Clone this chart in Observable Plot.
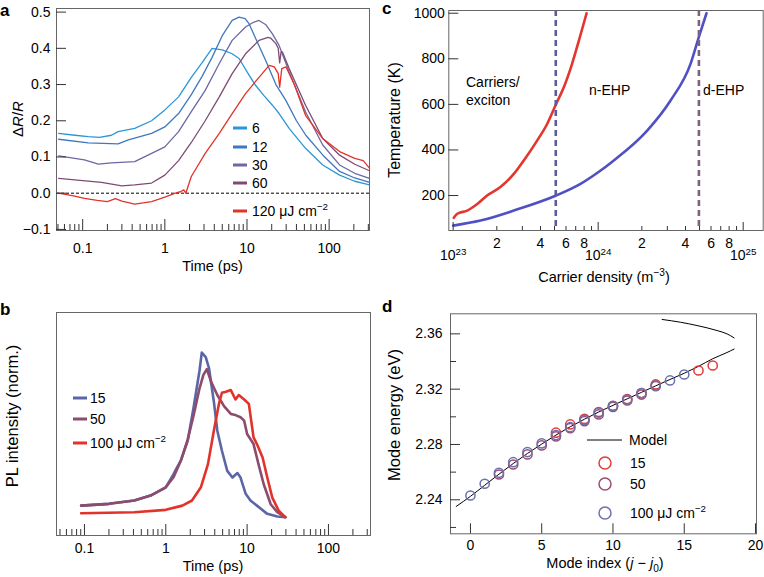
<!DOCTYPE html>
<html><head><meta charset="utf-8">
<script src="https://cdn.jsdelivr.net/npm/d3@7"></script>
<script src="https://cdn.jsdelivr.net/npm/@observablehq/plot@0.6"></script>
<style>
body{margin:0;background:#fff}
#fig{position:relative;width:764px;height:577px;font-family:"Liberation Sans",Arial,Helvetica,sans-serif;overflow:hidden}
#fig svg{position:absolute}
</style></head>
<body><div id="fig"></div>
<script>
// ---------- Panel a: ΔR/R vs time, fluence series ----------
const aFluences = ["6", "12", "30", "60", "120"];
const a6 = [[0.051,0.165],[0.08,0.160],[0.117,0.156],[0.16,0.154],[0.224,0.160],[0.27,0.170],[0.43,0.179],[0.69,0.200],[1.0,0.230],[1.47,0.266],[2.1,0.320],[2.83,0.360],[3.76,0.400],[5.0,0.396],[6.6,0.385],[8.0,0.372],[10.6,0.326],[12.7,0.298],[16,0.27],[20.4,0.243],[24.6,0.22],[32.6,0.179],[51.6,0.124],[83.6,0.078],[134,0.050],[205,0.033],[310,0.023]];
const a12 = [[0.051,0.149],[0.117,0.139],[0.27,0.136],[0.36,0.147],[0.69,0.165],[1.0,0.183],[1.47,0.220],[2.1,0.272],[2.83,0.322],[3.76,0.375],[5.0,0.435],[6.6,0.477],[8.0,0.486],[9.5,0.482],[10.6,0.468],[12.6,0.430],[17,0.365],[22.5,0.300],[29.6,0.257],[40,0.200],[52,0.160],[84,0.105],[134,0.060],[205,0.042],[310,0.030]];
const a30 = [[0.051,0.103],[0.105,0.092],[0.155,0.080],[0.224,0.084],[0.43,0.087],[0.69,0.110],[1.0,0.128],[1.47,0.170],[2.1,0.225],[3.1,0.284],[4.6,0.358],[6.6,0.422],[9.6,0.459],[12,0.472],[14,0.477],[17,0.465],[20.4,0.440],[24.6,0.408],[32.6,0.335],[51.6,0.225],[83.6,0.133],[134,0.078],[205,0.055],[310,0.041]];
const a60 = [[0.051,0.041],[0.17,0.030],[0.3,0.020],[0.43,0.023],[0.69,0.028],[1.0,0.050],[1.47,0.090],[2.1,0.140],[3.1,0.200],[4.6,0.266],[6.6,0.330],[9.6,0.385],[14,0.422],[18,0.430],[19.5,0.428],[22.5,0.413],[24,0.400],[25,0.360],[26,0.390],[27,0.390],[32.6,0.344],[51.6,0.243],[83.6,0.151],[134,0.105],[205,0.080],[310,0.062]];
const a120 = [[0.051,0.0],[0.08,-0.008],[0.105,-0.014],[0.15,-0.020],[0.2,-0.023],[0.25,-0.015],[0.3,-0.022],[0.43,-0.030],[0.69,-0.023],[1.0,-0.011],[1.34,0.0],[1.55,0.004],[1.7,0.009],[1.8,0.0],[2.1,0.046],[3.1,0.110],[4.6,0.165],[6.6,0.220],[9.6,0.275],[14,0.320],[18.6,0.353],[21.5,0.349],[24,0.330],[25,0.293],[26.5,0.344],[29.8,0.349],[38,0.298],[51.6,0.215],[83.6,0.151],[134,0.115],[205,0.096],[260,0.090],[310,0.069]];
const aXLabels = [0.1, 1, 10, 100];
const aYTicks = [-0.1, 0, 0.1, 0.2, 0.3, 0.4, 0.5];

// ---------- Panel b: PL intensity vs time ----------
const bFluences = ["15", "50", "100"];
const b15 = [[0.091,0.134],[0.2,0.142],[0.41,0.157],[0.65,0.179],[1.0,0.216],[1.25,0.276],[1.35,0.30],[1.53,0.336],[1.86,0.425],[2.2,0.575],[2.6,0.74],[2.77,0.82],[3.1,0.80],[3.4,0.75],[3.9,0.60],[4.3,0.47],[4.9,0.38],[5.7,0.29],[6.6,0.26],[7.6,0.28],[8.3,0.26],[9.6,0.187],[11,0.157],[13.2,0.134],[17.7,0.097],[23.5,0.085],[29.5,0.082]];
const b50 = [[0.091,0.134],[0.2,0.142],[0.41,0.157],[0.65,0.179],[1.0,0.216],[1.25,0.262],[1.53,0.335],[1.86,0.43],[2.2,0.54],[2.6,0.66],[2.9,0.72],[3.2,0.746],[3.6,0.69],[4.3,0.63],[5.2,0.58],[6.3,0.545],[7.2,0.54],[8.3,0.53],[9.2,0.515],[10,0.455],[12,0.41],[13.8,0.32],[16,0.23],[19.5,0.14],[23.5,0.105],[29.5,0.082]];
const b100 = [[0.091,0.10],[0.41,0.104],[1.0,0.115],[1.6,0.134],[2.1,0.157],[2.7,0.216],[3.3,0.32],[3.9,0.47],[4.5,0.59],[4.9,0.64],[5.5,0.645],[6.3,0.652],[7.2,0.61],[7.9,0.63],[9.2,0.61],[10.5,0.59],[12,0.44],[13.2,0.41],[15.5,0.35],[17.7,0.26],[20.4,0.17],[24.6,0.11],[29.5,0.082]];
const bXLabels = [0.1, 1, 10, 100];

// ---------- Panel c: temperature vs carrier density ----------
const cRed = [[1.01e23,102],[1.067e23,120],[1.25e23,134],[1.466e23,163],[1.714e23,200],[2.118e23,237],[2.618e23,295],[3.069e23,354],[3.793e23,441],[4.446e23,514],[5.129e23,602],[5.794e23,675],[6.607e23,778],[7.362e23,880],[8.318e23,1000]];
const cBlue = [[1.0e23,68],[1.545e23,90],[2.618e23,134],[5.129e23,200],[7.551e23,251],[1.0e24,302],[1.282e24,354],[2.178e24,485],[3.155e24,617],[4.335e24,778],[4.943e24,895],[5.585e24,1000]];
const cBoundaries = [5.1e23, 4.95e24];
const cDecades = [1e23, 1e24, 1e25];
const cMinorLabels = [2e23, 4e23, 6e23, 8e23, 2e24, 4e24, 6e24, 8e24];
const cYTicks = [200, 400, 600, 800, 1000];
const cRegions = ["Carriers/", "exciton", "n-EHP", "d-EHP"];

// ---------- Panel d: mode energy vs mode index ----------
const dModel = [[-1,2.2352],[0,2.2425],[1,2.2505],[2,2.2585],[3,2.2662],[4,2.2735],[5,2.2803],[6,2.2868],[7,2.2928],[8,2.2983],[9,2.3035],[10,2.3083],[11,2.313],[12,2.3177],[13,2.3224],[14,2.327],[15,2.3315],[16,2.3365],[17,2.342],[18,2.3465],[18.5,2.349]];
const dModelUpper = [[13.45,2.3704],[14.74,2.3684],[15.9,2.366],[17.3,2.3624],[18.0,2.360],[18.5,2.3571]];
const d15 = [[6,2.2885],[7,2.2945],[8,2.2985],[9,2.3035],[10,2.308],[11,2.3128],[12,2.3172],[13,2.3234],[16,2.3335],[17,2.3371]];
const d50 = [[2,2.2583],[3,2.2655],[4,2.2728],[5,2.2793],[6,2.2858],[7,2.2918],[8,2.2969],[9,2.3017],[10,2.3072],[11,2.3118],[12,2.3161],[13,2.3225]];
const d100 = [[0,2.2431],[1,2.2516],[2,2.2595],[3,2.2672],[4,2.2745],[5,2.2808],[6,2.2868],[7,2.2925],[8,2.2978],[9,2.3030],[10,2.3078],[11,2.3125],[12,2.3172],[13,2.3222],[14,2.3263],[15,2.3306]];
const dXTicks = [0, 5, 10, 15, 20];
const dYLabels = [2.24, 2.28, 2.32, 2.36];
const dYMinor = [2.22, 2.26, 2.30, 2.34];

// ---------- colours ----------
const colA = ["#2b97d6", "#3f78bd", "#6d68a3", "#7e4b74", "#e2332b"];
const colB = ["#5b66a6", "#8d4b6e", "#e2332b"];
const colC = {red: "#e2362e", blue: "#5050c4", dash: ["#5b5b9d", "#80607f"]};
const colD = ["#e23a3a", "#9a4d72", "#6b70ae"];

const FONT = '"Liberation Sans", Arial, Helvetica, sans-serif';
const TICK = "#333";
const FRAME = "#666";

// rich text: ^{sup}, _{sub}, *italic*
function rich(t, str) {
  const parts = str.split(/(\^\{[^}]*\}|_\{[^}]*\}|\*[^*]+\*)/).filter(s => s);
  let cur = 0;
  for (const p of parts) {
    let txt = p, target = 0, f = 1, it = false;
    if (p.startsWith("^{")) { txt = p.slice(2, -1); target = -0.42; f = 0.7; }
    else if (p.startsWith("_{")) { txt = p.slice(2, -1); target = 0.25; f = 0.7; }
    else if (p.length > 2 && p[0] === "*" && p[p.length - 1] === "*") { txt = p.slice(1, -1); it = true; }
    const ts = t.append("tspan").text(txt);
    if (f !== 1) ts.attr("font-size", (f * 100) + "%");
    if (it) ts.attr("font-style", "italic");
    if (target !== cur) ts.attr("dy", ((target - cur) / f).toFixed(3) + "em");
    cur = target;
  }
}
function richifyAll(svg) {
  d3.select(svg).selectAll("text").each(function () {
    const s = this.textContent;
    if (/\^\{|_\{|\*/.test(s)) { this.textContent = ""; rich(d3.select(this), s); }
  });
}
const fig = document.getElementById("fig");
function place(svg, left, top) {
  svg.style.left = left + "px"; svg.style.top = top + "px";
  fig.appendChild(svg); richifyAll(svg);
}
const baseStyle = {fontFamily: FONT, fontSize: "14px", background: "transparent", overflow: "visible", color: "#000"};
function minorLog(lo, hi) {
  const out = [];
  for (let e = Math.floor(Math.log10(lo)); e <= Math.ceil(Math.log10(hi)); e++)
    for (let m = 2; m <= 9; m++) { const v = m * Math.pow(10, e); if (v >= lo && v <= hi) out.push(v); }
  return out;
}
const xy = {x: d => d[0], y: d => d[1]};
// bottom tick labels as text marks (avoids log-scale label thinning)
function bottomLabels(vals, fmt, pad) {
  return Plot.text(vals, {x: d => d, text: fmt, frameAnchor: "bottom", lineAnchor: "top", dy: pad, fill: "#000"});
}

// ---------- Panel a ----------
{
  const W = 380, H = 290, mL = 56, mT = 8, mR = 11, mB = 60;
  const iW = W - mL - mR, iH = H - mT - mB;
  const dom = [0.048, 310];
  const series = [a6, a12, a30, a60, a120];
  const svg = Plot.plot({
    width: W, height: H, marginLeft: mL, marginTop: mT, marginRight: mR, marginBottom: mB,
    style: baseStyle,
    x: {type: "log", domain: dom, axis: null},
    y: {domain: [-0.103, 0.51]},
    marks: [
      Plot.ruleY([0], {stroke: "#000", strokeWidth: 1, strokeDasharray: "3,2"}),
      ...series.map((s, i) => Plot.line(s, {...xy, stroke: colA[i], strokeWidth: 1.3})),
      Plot.frame({stroke: FRAME}),
      Plot.ruleX(aXLabels, {x: d => d, stroke: TICK, insetTop: iH - 11}),
      Plot.ruleX(minorLog(dom[0], dom[1]), {x: d => d, stroke: TICK, insetTop: iH - 6}),
      Plot.ruleY(aYTicks, {y: d => d, stroke: TICK, insetRight: iW - 10}),
      bottomLabels(aXLabels, d => String(d), 13),
      Plot.axisY(aYTicks, {tickSize: 0, tickPadding: 6, tickFormat: d3.format(".1f"), label: null})
    ]
  });
  place(svg, 0, 0);
}

// ---------- Panel b ----------
{
  const W = 380, H = 287, mL = 56, mT = 22, mR = 10, mB = 42;
  const iH = H - mT - mB;
  const dom = [0.0453, 329];
  const series = [b15, b50, b100];
  const svg = Plot.plot({
    width: W, height: H, marginLeft: mL, marginTop: mT, marginRight: mR, marginBottom: mB,
    style: baseStyle,
    x: {type: "log", domain: dom, axis: null},
    y: {domain: [0, 1], axis: null},
    marks: [
      ...series.map((s, i) => Plot.line(s, {...xy, stroke: colB[i], strokeWidth: 2.6})),
      Plot.frame({stroke: FRAME}),
      Plot.ruleX(bXLabels, {x: d => d, stroke: TICK, insetTop: iH - 11}),
      Plot.ruleX(minorLog(dom[0], dom[1]), {x: d => d, stroke: TICK, insetTop: iH - 6}),
      bottomLabels(bXLabels, d => String(d), 8)
    ]
  });
  place(svg, 0, 290);
}

// ---------- Panel c ----------
{
  const W = 384, H = 290, mL = 68.3, mT = 10, mR = 1.3, mB = 60;
  const iW = W - mL - mR, iH = H - mT - mB;
  const dom = [9.33e22, 1.374e25];
  const svg = Plot.plot({
    width: W, height: H, marginLeft: mL, marginTop: mT, marginRight: mR, marginBottom: mB,
    style: baseStyle,
    x: {type: "log", domain: dom, axis: null},
    y: {domain: [46.5, 1012]},
    marks: [
      Plot.line(cRed, {...xy, stroke: colC.red, strokeWidth: 2.6, curve: "monotone-x"}),
      Plot.line(cBlue, {...xy, stroke: colC.blue, strokeWidth: 2.6, curve: "monotone-x"}),
      Plot.ruleX(cBoundaries, {x: d => d, stroke: (d, i) => colC.dash[i], strokeWidth: 2.6, strokeDasharray: "6,4"}),
      Plot.frame({stroke: FRAME}),
      Plot.ruleX(cDecades, {x: d => d, stroke: TICK, insetTop: iH - 8}),
      Plot.ruleX(minorLog(dom[0], dom[1]), {x: d => d, stroke: TICK, insetTop: iH - 4}),
      Plot.ruleY(cYTicks, {y: d => d, stroke: TICK, insetRight: iW - 10}),
      bottomLabels(cMinorLabels, d => String(Math.round(d / Math.pow(10, Math.floor(Math.log10(d) + 1e-9)))), 8),
      bottomLabels(cDecades, d => "10^{" + Math.round(Math.log10(d)) + "}", 20),
      Plot.axisY(cYTicks, {tickSize: 0, tickPadding: 4, tickFormat: d => String(d), label: null})
    ]
  });
  place(svg, 380, 0);
}

// ---------- Panel d ----------
{
  const W = 384, H = 287, mL = 70, mT = 23.3, mR = 8, mB = 43.7;
  const iW = W - mL - mR, iH = H - mT - mB;
  const svg = Plot.plot({
    width: W, height: H, marginLeft: mL, marginTop: mT, marginRight: mR, marginBottom: mB,
    style: baseStyle,
    x: {domain: [-1.4, 20.07], axis: null},
    y: {domain: [2.2154, 2.3745]},
    marks: [
      Plot.line(dModel, {...xy, stroke: "#000", strokeWidth: 1, curve: "monotone-x"}),
      Plot.line(dModelUpper, {...xy, stroke: "#000", strokeWidth: 1, curve: "monotone-x"}),
      Plot.dot(d15, {...xy, r: 4.6, stroke: colD[0], strokeWidth: 1.5, fill: "none"}),
      Plot.dot(d50, {...xy, r: 4.6, stroke: colD[1], strokeWidth: 1.5, fill: "none"}),
      Plot.dot(d100, {...xy, r: 4.6, stroke: colD[2], strokeWidth: 1.5, fill: "none"}),
      Plot.frame({stroke: FRAME}),
      Plot.ruleX(dXTicks, {x: d => d, stroke: TICK, insetTop: iH - 10}),
      Plot.ruleY(dYLabels, {y: d => d, stroke: TICK, insetRight: iW - 10}),
      Plot.ruleY(dYMinor, {y: d => d, stroke: TICK, insetRight: iW - 6}),
      bottomLabels(dXTicks, d => String(d), 6),
      Plot.axisY(dYLabels, {tickSize: 0, tickPadding: 8, tickFormat: d3.format(".2f"), label: null})
    ]
  });
  place(svg, 380, 290);
}

// ---------- overlay: titles, panel letters, legends ----------
const ov = d3.create("svg").attr("width", 764).attr("height", 577)
  .style("left", "0px").style("top", "0px").style("pointer-events", "none")
  .attr("font-family", FONT);
fig.appendChild(ov.node());
function label(x, y, str, {size = 14, anchor = "start", rotate = false, weight = "normal"} = {}) {
  const t = ov.append("text").attr("font-size", size).attr("text-anchor", anchor).attr("font-weight", weight).attr("fill", "#000");
  if (rotate) t.attr("transform", `translate(${x + 0.35 * size},${y}) rotate(-90)`);
  else t.attr("x", x).attr("y", y + 0.35 * size);
  rich(t, str);
}
function swatch(x1, x2, y, color, w) {
  ov.append("line").attr("x1", x1).attr("x2", x2).attr("y1", y).attr("y2", y).attr("stroke", color).attr("stroke-width", w);
}
// letters
label(0, 10, "a", {size: 17, weight: "bold"});
label(0, 309, "b", {size: 17, weight: "bold"});
label(382, 8, "c", {size: 17, weight: "bold"});
label(382, 306, "d", {size: 17, weight: "bold"});
// axis titles
label(212.5, 266, "Time (ps)", {anchor: "middle", size: 14.5});
label(18, 119, "Δ*R*/*R*", {anchor: "middle", rotate: true, size: 15});
label(213, 566, "Time (ps)", {anchor: "middle", size: 14.5});
label(12, 416, "PL intensity (norm.)", {anchor: "middle", rotate: true, size: 16.5});
label(604, 277, "Carrier density (m^{−3})", {anchor: "middle", size: 14.5});
label(394, 120, "Temperature (K)", {anchor: "middle", rotate: true, size: 16});
label(605, 563, "Mode index (*j* − *j*_{0})", {anchor: "middle", size: 14.5});
label(394, 415, "Mode energy (eV)", {anchor: "middle", rotate: true, size: 16.5});
// region labels c
label(466, 82, cRegions[0]);
label(466, 100, cRegions[1]);
label(589, 90, cRegions[2]);
label(703, 90, cRegions[3]);
// legend a
const aLegY = [128, 147, 165, 183, 211];
aFluences.forEach((f, i) => {
  swatch(233, 247, aLegY[i], colA[i], 3);
  label(252, aLegY[i], i === 4 ? f + "  μJ cm^{−2}" : f);
});
// legend b
const bLegY = [398, 419, 443];
bFluences.forEach((f, i) => {
  swatch(73, 87, bLegY[i], colB[i], 3);
  label(90, bLegY[i], i === 2 ? f + " μJ cm^{−2}" : f);
});
// legend d
swatch(587, 622, 440, "#000", 1);
label(629, 440, "Model");
const dLegY = [463, 484, 513];
["15", "50", "100"].forEach((f, i) => {
  ov.append("circle").attr("cx", 605).attr("cy", dLegY[i]).attr("r", 6).attr("fill", "none").attr("stroke", colD[i]).attr("stroke-width", 1.5);
  label(630, dLegY[i], i === 2 ? f + " μJ cm^{−2}" : f);
});
</script></body></html>
